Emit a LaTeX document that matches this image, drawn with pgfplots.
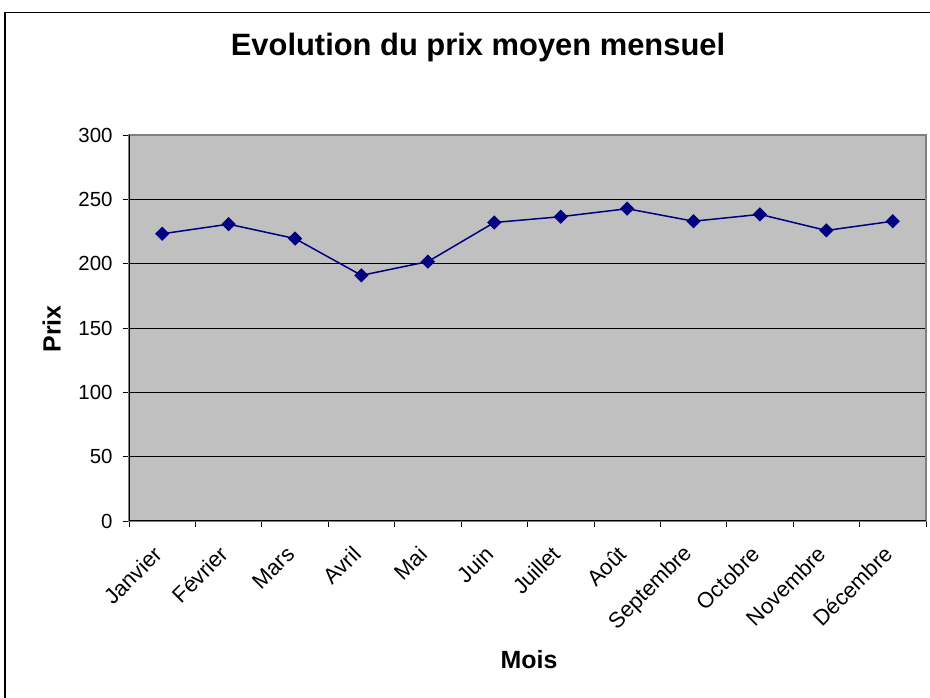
\documentclass[border=0pt]{standalone}
\usepackage{pgfplots}
\pgfplotsset{compat=1.18}
\usepackage{fontspec}
\setmainfont{Liberation Sans}
\definecolor{plotgray}{HTML}{C0C0C0}
\definecolor{bordergray}{HTML}{808080}
\definecolor{navy}{HTML}{000080}
\begin{document}
\begin{tikzpicture}
\useasboundingbox (0bp,0bp) rectangle (930bp,698bp);
\draw[line width=1.5bp] (5bp,0bp) -- (5bp,685.5bp) -- (930bp,685.5bp);
\node[font=\fontsize{31}{37}\selectfont\bfseries] at (478bp,650bp) {Evolution du prix moyen mensuel};
\node[font=\fontsize{25}{30}\selectfont\bfseries, rotate=90] at (51.5bp,369bp) {Prix};
\node[font=\fontsize{25}{30}\selectfont\bfseries] at (529bp,38bp) {Mois};
\begin{axis}[
  at={(129bp,177bp)}, anchor=south west,
  width=797bp, height=386bp, scale only axis,
  xmin=0.5, xmax=12.5, ymin=0, ymax=300,
  axis background/.style={fill=plotgray},
  axis line style={draw=bordergray, line width=1.5bp},
  ytick={0,50,...,300},
  ymajorgrids, grid style={black, line width=0.7bp},
  xtick={1,...,12},
  xticklabels={Janvier,Février,Mars,Avril,Mai,Juin,Juillet,Août,Septembre,Octobre,Novembre,Décembre},
  minor xtick={0.5,1.5,...,12.5},
  major x tick style={draw=none},
  tick align=outside, major tick length=6bp, minor tick length=6bp,
  tick style={black, line width=0.8bp},
  minor tick style={black, line width=0.8bp},
  xtick pos=bottom, ytick pos=left,
  /pgf/number format/assume math mode=true,
  yticklabel style={font=\fontsize{20.5}{24}\selectfont, xshift=-7bp},
  xticklabel style={font=\fontsize{22}{26}\selectfont, xshift=-2bp, yshift=-21bp, rotate=45, anchor=east},
  clip=false,
]
\addplot[color=navy, line width=1.5bp, mark=square*, mark size=4.3bp, mark options={rotate=45, fill=navy, draw=navy}]
 coordinates {(1,223.2) (2,230.7) (3,219.5) (4,190.9) (5,201.6) (6,232) (7,236.5) (8,242.7) (9,233) (10,238.3) (11,225.8) (12,233)};
\draw[black, line width=1bp] (axis cs:0.5,300) -- (axis cs:0.5,0) -- (axis cs:12.5,0);
\end{axis}
\end{tikzpicture}
\end{document}
